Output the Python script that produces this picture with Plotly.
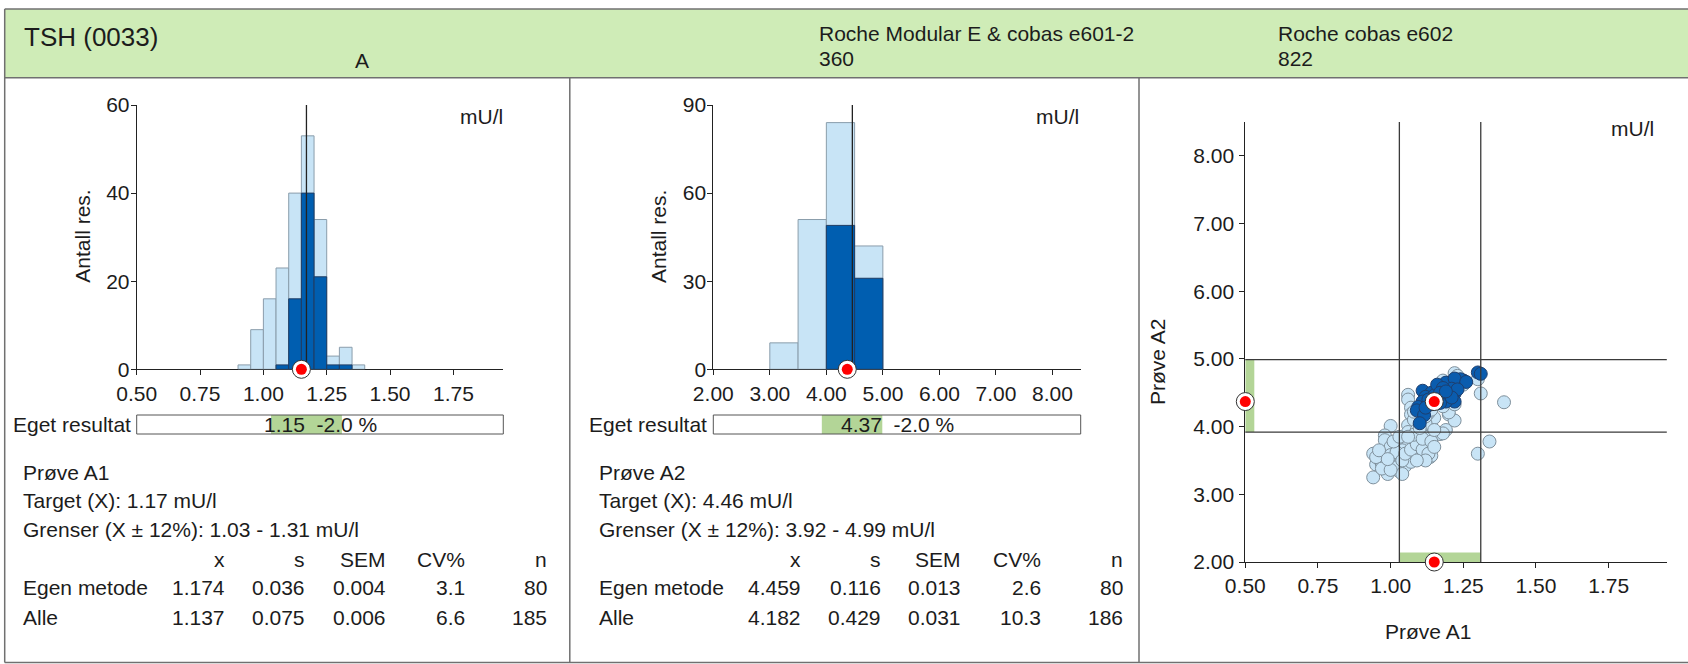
import plotly.graph_objects as go

W, H = 1688, 664

# ---------------- data ----------------
hist1_bin_left = [0.90, 0.95, 1.00, 1.05, 1.10, 1.15, 1.20, 1.25, 1.30, 1.35]
hist1_all = [1, 9, 16, 23, 40, 53, 34, 3, 5, 1]
hist1_own = [0, 0, 0, 1, 16, 40, 21, 1, 1, 0]
hist1_width = 0.05

hist2_bin_left = [3.0, 3.5, 4.0, 4.5]
hist2_all = [9, 51, 84, 42]
hist2_own = [0, 0, 49, 31]
hist2_width = 0.5

targets = [1.17, 4.46]
limits_a1 = [1.03, 1.31]
limits_a2 = [3.92, 4.99]
own_result = [1.15, 4.37]
own_result_text = ["1.15", "4.37"]
deviation_text = ["-2.0 %", "-2.0 %"]

x1_ticks = [0.50, 0.75, 1.00, 1.25, 1.50, 1.75]
x2_ticks = [2.0, 3.0, 4.0, 5.0, 6.0, 7.0, 8.0]
y1_ticks = [0, 20, 40, 60]
y2_ticks = [0, 30, 60, 90]

scatter_all_x = [1.22, 1.30, 1.31, 1.39, 1.06, 1.06, 1.07, 1.07, 1.06, 1.00, 1.15, 1.20, 1.22,
                 1.20, 1.22, 1.18, 1.13, 1.10, 1.08, 1.12, 1.25, 1.23, 1.18, 1.17, 1.25,
                 1.17, 1.19, 1.18, 1.34, 1.30, 0.98, 0.98, 1.02, 1.05, 1.07, 1.11, 1.10, 1.06,
                 1.13, 1.135, 1.10, 1.10, 1.06, 1.03, 1.03, 0.99, 0.99, 0.97, 0.94, 0.95, 0.94,
                 1.03, 1.01, 1.08, 1.12, 1.09, 1.04, 1.12, 1.00, 0.96, 1.05, 1.14, 1.08, 1.07,
                 0.98, 1.02, 1.06, 1.09, 1.00, 0.97,
                 0.95, 0.97, 1.00, 1.02, 1.04, 1.05, 1.07, 1.09, 1.11, 1.13, 1.12, 1.09, 1.04,
                 0.96, 1.01, 1.03, 1.08, 1.11, 1.14, 1.15, 1.00, 0.99, 1.06, 1.10, 1.15,
                 1.08, 1.10, 1.12, 1.14]
scatter_all_y = [4.79, 4.70, 4.49, 4.36, 4.47, 4.40, 4.28, 4.18, 4.02, 4.01, 4.13, 4.18, 4.09,
                 4.21, 4.33, 4.30, 4.20, 4.12, 4.10, 4.05, 4.68, 4.75, 4.68, 4.40, 4.62,
                 3.89, 3.95, 3.90, 3.78, 3.60, 3.87, 3.80, 3.73, 3.75, 3.81, 3.89, 3.76, 3.71,
                 3.71, 3.55, 3.60, 3.52, 3.58, 3.48, 3.34, 3.44, 3.30, 3.60, 3.60, 3.44, 3.25,
                 3.55, 3.66, 3.82, 3.85, 3.68, 3.65, 3.62, 3.50, 3.52, 3.42, 3.57, 3.55, 3.48,
                 3.58, 3.40, 3.92, 3.95, 3.70, 3.45,
                 3.55, 3.38, 3.58, 3.62, 3.50, 3.60, 3.66, 3.74, 3.66, 3.60, 3.50, 3.50, 3.30,
                 3.65, 3.78, 3.85, 3.88, 3.82, 3.78, 3.70, 3.36, 3.52, 3.85, 3.98, 3.95,
                 4.22, 4.30, 4.15, 4.25]

scatter_own_x = [1.30, 1.31, 1.11, 1.25, 1.23, 1.20, 1.19, 1.22, 1.22, 1.18, 1.16, 1.14, 1.12,
                 1.11, 1.095, 1.09, 1.115, 1.10, 1.19, 1.17, 1.24, 1.22, 1.21, 1.15, 1.13,
                 1.14, 1.12, 1.20, 1.16, 1.18, 1.26, 1.23, 1.17, 1.21, 1.19]
scatter_own_y = [4.80, 4.78, 4.53, 4.68, 4.63, 4.59, 4.65, 4.49, 4.37, 4.44, 4.52, 4.50, 4.44,
                 4.37, 4.29, 4.24, 4.17, 4.05, 4.37, 4.35, 4.70, 4.71, 4.56, 4.46, 4.40,
                 4.33, 4.28, 4.48, 4.62, 4.57, 4.66, 4.55, 4.50, 4.43, 4.52]

sample_names = ["Prøve A1", "Prøve A2"]
target_text = ["1.17", "4.46"]
limit_text = ["1.03 - 1.31", "3.92 - 4.99"]
stat_headers = ["x", "s", "SEM", "CV%", "n"]
own_method_stats = [["1.174", "0.036", "0.004", "3.1", "80"],
                    ["4.459", "0.116", "0.013", "2.6", "80"]]
all_stats = [["1.137", "0.075", "0.006", "6.6", "185"],
             ["4.182", "0.429", "0.031", "10.3", "186"]]

# ---------------- styling ----------------
FONT = "Liberation Sans, Arial, sans-serif"
TXT = "#1c1c1c"
LIGHT = "#c8e4f6"
LIGHT_LINE = "#8a9dab"
DARK = "#005eb0"
DARK_LINE = "#1f3c63"
GREEN_BAND = "#b3d597"
HEADER_GREEN = "#cfecb7"
BORDER = "#707070"


def px(x):
    return x / W


def py(y):
    return 1 - y / H


fig = go.Figure()

# histogram bars
for (lefts, allv, ownv, wid, xa, ya) in [
    (hist1_bin_left, hist1_all, hist1_own, hist1_width, "x", "y"),
    (hist2_bin_left, hist2_all, hist2_own, hist2_width, "x2", "y2"),
]:
    centers = [l + wid / 2 for l in lefts]
    fig.add_trace(go.Bar(x=centers, y=allv, width=wid, xaxis=xa, yaxis=ya,
                         marker=dict(color=LIGHT, line=dict(color=LIGHT_LINE, width=1)),
                         showlegend=False, hoverinfo="skip"))
    oc = [c for c, v in zip(centers, ownv) if v > 0]
    ov = [v for v in ownv if v > 0]
    fig.add_trace(go.Bar(x=oc, y=ov, width=wid, xaxis=xa, yaxis=ya,
                         marker=dict(color=DARK, line=dict(color=DARK_LINE, width=1)),
                         showlegend=False, hoverinfo="skip"))

# target lines
for t, xa, ya, top in [(targets[0], "x", "y", y1_ticks[-1]), (targets[1], "x2", "y2", y2_ticks[-1])]:
    fig.add_trace(go.Scatter(x=[t, t], y=[0, top], mode="lines", xaxis=xa, yaxis=ya,
                             line=dict(color="#222222", width=1.3), showlegend=False,
                             hoverinfo="skip"))


def red_marker(x, y, xa, ya):
    fig.add_trace(go.Scatter(x=x, y=y, mode="markers", xaxis=xa, yaxis=ya, cliponaxis=False,
                             marker=dict(size=18, color="white", line=dict(color="#333333", width=1)),
                             showlegend=False, hoverinfo="skip"))
    fig.add_trace(go.Scatter(x=x, y=y, mode="markers", xaxis=xa, yaxis=ya, cliponaxis=False,
                             marker=dict(size=11, color="#ff0000", line=dict(width=0)),
                             showlegend=False, hoverinfo="skip"))


red_marker([own_result[0]], [0], "x", "y")
red_marker([own_result[1]], [0], "x2", "y2")

# scatter plot
fig.add_trace(go.Scatter(x=scatter_all_x, y=scatter_all_y, mode="markers", xaxis="x3", yaxis="y3",
                         marker=dict(size=13, color=LIGHT, line=dict(color="#7f909c", width=1)),
                         showlegend=False, hoverinfo="skip"))
fig.add_trace(go.Scatter(x=scatter_own_x, y=scatter_own_y, mode="markers", xaxis="x3", yaxis="y3",
                         marker=dict(size=13, color="#0a5cae", line=dict(color="#1e3f6e", width=1)),
                         showlegend=False, hoverinfo="skip"))
red_marker([own_result[0], x1_ticks[0], own_result[0]],
           [own_result[1], own_result[1], x2_ticks[0]], "x3", "y3")


def axis(domain, rng, ticks, fmt, anchor, standoff=0):
    return dict(domain=domain, range=rng, tickvals=ticks, tickformat=fmt, anchor=anchor,
                showgrid=False, zeroline=False, showline=True, linecolor="#222222", linewidth=1,
                ticks="outside", ticklen=5, tickcolor="#222222", tickwidth=1,
                tickfont=dict(family=FONT, size=21, color=TXT), fixedrange=True,
                layer="below traces", ticklabelstandoff=standoff, automargin=False)


hist_ydom = [py(369.3), py(105)]
fig.update_layout(
    xaxis=axis([px(136.7), px(503.3)], [0.5, 1.947], x1_ticks, ".2f", "y", 0),
    yaxis=axis(hist_ydom, [0, 60], y1_ticks, "d", "x", -3),
    xaxis2=axis([px(713.3), px(1080.7)], [2.0, 8.5], x2_ticks, ".2f", "y2", 0),
    yaxis2=axis(hist_ydom, [0, 90], y2_ticks, "d", "x2", -3),
    xaxis3=axis([px(1245.3), px(1666.8)], [0.5, 1.95], x1_ticks, ".2f", "y3", 0),
    yaxis3=axis([py(562), py(122)], [2.0, 8.5], x2_ticks, ".2f", "x3", 1),
    barmode="overlay",
    width=W, height=H, autosize=False,
    margin=dict(l=0, r=0, t=0, b=0, pad=0, autoexpand=False),
    paper_bgcolor="white", plot_bgcolor="rgba(0,0,0,0)",
    font=dict(family=FONT, size=21, color=TXT),
    showlegend=False,
)

shapes = []
# header band and frame
shapes.append(dict(type="rect", xref="paper", yref="paper", x0=px(4.7), x1=1.0, y0=py(77.7), y1=py(9),
                   fillcolor=HEADER_GREEN, line=dict(width=0), layer="below"))
for (x0, y0, x1, y1) in [(4.7, 9, W, 9), (4.7, 77.7, W, 77.7), (4.7, 662.5, W, 662.5),
                         (4.7, 9, 4.7, 662.5), (569.8, 77.7, 569.8, 662.5), (1139, 77.7, 1139, 662.5)]:
    shapes.append(dict(type="line", xref="paper", yref="paper", x0=px(x0), x1=px(x1), y0=py(y0), y1=py(y1),
                       line=dict(color=BORDER, width=1.5), layer="below"))

# "Eget resultat" boxes
box_y0, box_y1 = py(434), py(415)
for xa, lims in [("x", limits_a1), ("x2", limits_a2)]:
    shapes.append(dict(type="rect", xref=xa + " domain", yref="paper", x0=0, x1=1, y0=box_y0, y1=box_y1,
                       fillcolor="white", line=dict(width=0), layer="below"))
    shapes.append(dict(type="rect", xref=xa, yref="paper", x0=lims[0], x1=lims[1], y0=box_y0, y1=box_y1,
                       fillcolor=GREEN_BAND, line=dict(width=0), layer="above"))
    shapes.append(dict(type="rect", xref=xa + " domain", yref="paper", x0=0, x1=1, y0=box_y0, y1=box_y1,
                       fillcolor="rgba(0,0,0,0)", line=dict(color="#555555", width=1), layer="above"))

# scatter limit bands and lines
shapes.append(dict(type="rect", xref="x3", yref="y3", x0=limits_a1[0], x1=limits_a1[1], y0=2.0, y1=2.14,
                   fillcolor=GREEN_BAND, line=dict(width=0), layer="below"))
shapes.append(dict(type="rect", xref="x3", yref="y3", x0=0.5, x1=0.531, y0=limits_a2[0], y1=limits_a2[1],
                   fillcolor=GREEN_BAND, line=dict(width=0), layer="below"))
for v in limits_a1:
    shapes.append(dict(type="line", xref="x3", yref="y3 domain", x0=v, x1=v, y0=0, y1=1,
                       line=dict(color="#3a3a3a", width=1.3), layer="above"))
for v in limits_a2:
    shapes.append(dict(type="line", xref="x3 domain", yref="y3", x0=0, x1=1, y0=v, y1=v,
                       line=dict(color="#3a3a3a", width=1.3), layer="above"))

fig.update_layout(shapes=shapes)

ann = []


def text(x, y, s, size=21, xanchor="left", angle=0, xref="paper"):
    ann.append(dict(x=x if xref != "paper" else px(x), y=py(y), xref=xref, yref="paper", text=s,
                    showarrow=False, xanchor=xanchor, yanchor="middle", textangle=angle,
                    font=dict(family=FONT, size=size, color=TXT)))


# header
text(21.7, 36.5, "TSH (0033)", size=26)
text(361.7, 60, "A", size=21, xanchor="center")
text(817, 33.5, "Roche Modular E &amp; cobas e601-2")
text(817, 58.5, "360")
text(1276.3, 33.5, "Roche cobas e602")
text(1276.3, 58.5, "822")

# axis titles/units
text(83, 236.7, "Antall res.", xanchor="center", angle=-90)
text(658.3, 236.7, "Antall res.", xanchor="center", angle=-90)
text(505, 116.7, "mU/l", xanchor="right")
text(1080.7, 116.7, "mU/l", xanchor="right")
text(1655.5, 128.6, "mU/l", xanchor="right")
text(1157.5, 362.5, "Prøve A2", xanchor="center", angle=-90)
text(1427.5, 631.7, "Prøve A1", xanchor="center")

# own-result boxes
text(133, 424.5, "Eget resultat", xanchor="right")
text(709, 424.5, "Eget resultat", xanchor="right")
for i, xa in enumerate(["x domain", "x2 domain"]):
    text(0.5, 424.5, own_result_text[i] + "\u00a0\u00a0" + deviation_text[i], xanchor="center", xref=xa)

# statistics tables
row_y = [472.7, 500.9, 529.2, 559.2, 587.6, 617.0]
col_rel = [206, 286, 367, 446, 528.5]
for i, left in enumerate([20.7, 596.5]):
    text(left, row_y[0], sample_names[i])
    text(left, row_y[1], "Target (X): " + target_text[i] + " mU/l")
    text(left, row_y[2], "Grenser (X ± 12%): " + limit_text[i] + " mU/l")
    text(left, row_y[4], "Egen metode")
    text(left, row_y[5], "Alle")
    for j, c in enumerate(col_rel):
        text(left + c, row_y[3], stat_headers[j], xanchor="right")
        text(left + c, row_y[4], own_method_stats[i][j], xanchor="right")
        text(left + c, row_y[5], all_stats[i][j], xanchor="right")

fig.update_layout(annotations=ann)

fig.write_html("out.html", config={"displayModeBar": False},
               post_script="document.body.style.margin='0px';document.body.style.overflow='hidden';")
